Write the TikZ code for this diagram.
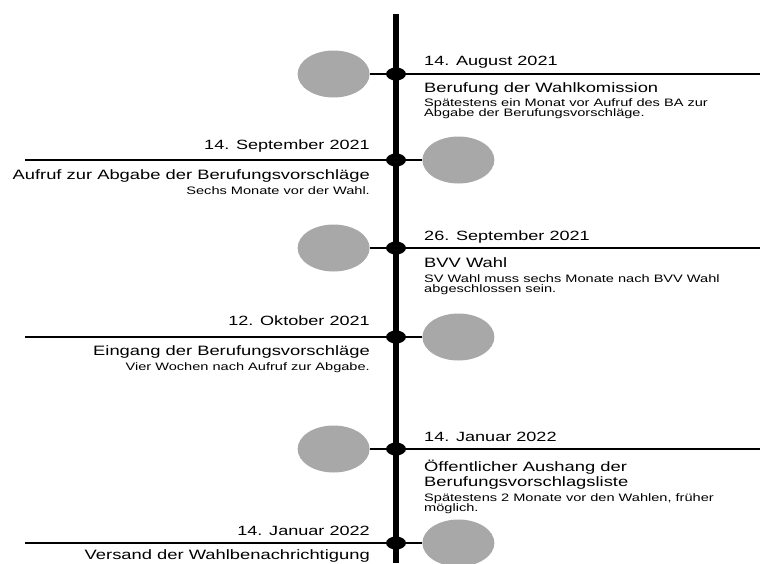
\documentclass[tikz,border=0pt]{standalone}
\usepackage{fontspec}
\setmainfont[FakeStretch=1.35]{Liberation Sans}
\usetikzlibrary{positioning,shapes.geometric}
\definecolor{discgray}{RGB}{168,168,168}
\newcommand{\datefont}{\fontsize{13.4}{11}\selectfont}
\newcommand{\headfont}{\fontsize{13.6}{15}\selectfont\lineskiplimit=-20pt}
\newcommand{\notefont}{\fontsize{10.8}{9.8}\selectfont\lineskiplimit=-20pt}
\tikzset{
timeline/.style={
    line width=5.5pt
},
rail/.style={
    line width=1.7pt
},
stub/.style={
    line width=1.3pt
},
point/.style={
    ellipse,
    fill=black,
    inner sep=0pt,
    minimum width=20pt,
    minimum height=13pt
},
disc/.style={
    ellipse,
    fill=discgray,
    inner sep=0pt,
    minimum width=72pt,
    minimum height=47pt
},
datum/.style={
    font=\datefont,
    inner sep=0pt
},
head/.style={
    font=\headfont,
    inner sep=0pt
},
note/.style={
    font=\notefont,
    inner sep=0pt
},
rtext/.style={
    anchor=base west,
    align=left
},
ltext/.style={
    anchor=base east,
    align=right
}}

\begin{document}
\begin{tikzpicture}[x=1pt, y=1pt, node distance=16pt]
\useasboundingbox (0,0) rectangle (760,-563);

% the time axis
\coordinate (top)    at (396,-14);
\coordinate (bottom) at (396,-563);
\draw[timeline] (top) -- (bottom);

% 14. August 2021
\node[point]    (p1)    at (396,-74)    {};
\node[disc]     (c1)    [left=of p1]    {};
\coordinate     (e1)    at (760,-74);
\draw[rail]     (p1) -- (e1);
\path           (c1)    edge[stub]    (p1);
\node[datum, rtext] (d1) at ([shift={(28,9)}]p1)   {14. August 2021};
\node[head, rtext]  (h1) at ([shift={(28,-18)}]p1) {Berufung der Wahlkomission};
\node[note, rtext]  (n1) at ([shift={(28,-42)}]p1) {Spätestens ein Monat vor Aufruf des BA zur\\Abgabe der Berufungsvorschläge.};

% 14. September 2021
\node[point]    (p2)    at (396,-160)   {};
\node[disc]     (c2)    [right=of p2]   {};
\coordinate     (e2)    at (25,-160);
\draw[rail]     (e2) -- (p2);
\path           (p2)    edge[stub]    (c2);
\node[datum, ltext] (d2) at ([shift={(-26,11)}]p2)  {14. September 2021};
\node[head, ltext]  (h2) at ([shift={(-26,-19)}]p2) {Aufruf zur Abgabe der Berufungsvorschläge};
\node[note, ltext]  (n2) at ([shift={(-26,-34)}]p2) {Sechs Monate vor der Wahl.};

% 26. September 2021
\node[point]    (p3)    at (396,-248)   {};
\node[disc]     (c3)    [left=of p3]    {};
\coordinate     (e3)    at (760,-248);
\draw[rail]     (p3) -- (e3);
\path           (c3)    edge[stub]    (p3);
\node[datum, rtext] (d3) at ([shift={(28,8)}]p3)   {26. September 2021};
\node[head, rtext]  (h3) at ([shift={(28,-19)}]p3) {BVV Wahl};
\node[note, rtext]  (n3) at ([shift={(28,-44)}]p3) {SV Wahl muss sechs Monate nach BVV Wahl\\abgeschlossen sein.};

% 12. Oktober 2021
\node[point]    (p4)    at (396,-337)   {};
\node[disc]     (c4)    [right=of p4]   {};
\coordinate     (e4)    at (25,-337);
\draw[rail]     (e4) -- (p4);
\path           (p4)    edge[stub]    (c4);
\node[datum, ltext] (d4) at ([shift={(-26,12)}]p4)  {12. Oktober 2021};
\node[head, ltext]  (h4) at ([shift={(-26,-18)}]p4) {Eingang der Berufungsvorschläge};
\node[note, ltext]  (n4) at ([shift={(-26,-33)}]p4) {Vier Wochen nach Aufruf zur Abgabe.};

% 14. Januar 2022
\node[point]    (p5)    at (396,-449)   {};
\node[disc]     (c5)    [left=of p5]    {};
\coordinate     (e5)    at (760,-449);
\draw[rail]     (p5) -- (e5);
\path           (c5)    edge[stub]    (p5);
\node[datum, rtext] (d5) at ([shift={(28,8)}]p5)   {14. Januar 2022};
\node[head, rtext]  (h5) at ([shift={(28,-37)}]p5) {Öffentlicher Aushang der\\Berufungsvorschlagsliste};
\node[note, rtext]  (n5) at ([shift={(28,-62)}]p5) {Spätestens 2 Monate vor den Wahlen, früher\\möglich.};

% 14. Januar 2022
\node[point]    (p6)    at (396,-543)   {};
\node[disc]     (c6)    [right=of p6]   {};
\coordinate     (e6)    at (25,-543);
\draw[rail]     (e6) -- (p6);
\path           (p6)    edge[stub]    (c6);
\node[datum, ltext] (d6) at ([shift={(-26,8)}]p6)  {14. Januar 2022};
\node[head, ltext]  (h6) at ([shift={(-26,-16)}]p6) {Versand der Wahlbenachrichtigung};
\end{tikzpicture}
\end{document}
